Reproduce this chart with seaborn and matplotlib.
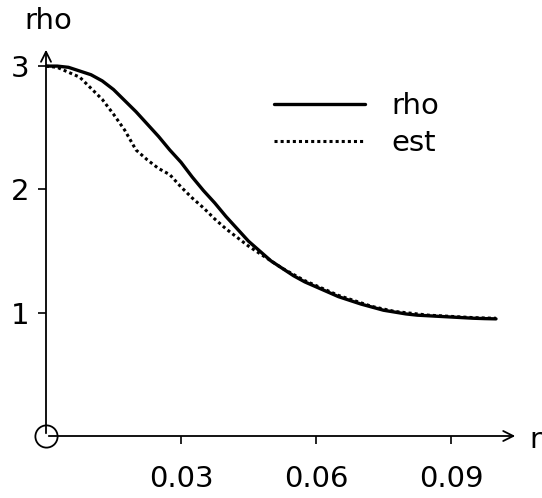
import numpy as np
import pandas as pd
import matplotlib
matplotlib.use("Agg")
import matplotlib.pyplot as plt
import seaborn as sns

r_vals = [0.0, 0.0025, 0.005, 0.0075, 0.01, 0.0125, 0.015, 0.0175, 0.02, 0.0225,
          0.025, 0.0275, 0.03, 0.0325, 0.035, 0.0375, 0.04, 0.0425, 0.045, 0.0475,
          0.05, 0.0525, 0.055, 0.0575, 0.06, 0.0625, 0.065, 0.0675, 0.07, 0.0725,
          0.075, 0.0775, 0.08, 0.0825, 0.085, 0.0875, 0.09, 0.0925, 0.095, 0.0975, 0.1]
rho_vals = [3.00, 3.00, 2.99, 2.96, 2.93, 2.88, 2.81, 2.72, 2.63, 2.53,
            2.43, 2.32, 2.22, 2.10, 1.99, 1.89, 1.78, 1.68, 1.58, 1.50,
            1.42, 1.36, 1.30, 1.25, 1.21, 1.17, 1.13, 1.10, 1.07, 1.045,
            1.02, 1.005, 0.99, 0.98, 0.975, 0.97, 0.965, 0.96, 0.955, 0.952, 0.95]
est_vals = [3.00, 2.99, 2.95, 2.91, 2.82, 2.73, 2.61, 2.48, 2.32, 2.24,
            2.17, 2.12, 2.02, 1.93, 1.85, 1.76, 1.68, 1.61, 1.54, 1.48,
            1.42, 1.36, 1.31, 1.26, 1.22, 1.18, 1.14, 1.11, 1.08, 1.05,
            1.03, 1.01, 1.00, 0.99, 0.98, 0.975, 0.97, 0.965, 0.96, 0.957, 0.955]
xtick_vals = [0.03, 0.06, 0.09]
xtick_labels = ["0.03", "0.06", "0.09"]
ytick_vals = [1, 2, 3]
ytick_labels = ["1", "2", "3"]

sns.set_style("white")
plt.rcParams['font.family'] = ['DejaVu Sans']
plt.rcParams['text.color'] = 'black'
FONT = dict(fontsize=21, color='black')

W, H = 542, 498
fig = plt.figure(figsize=(W / 100, H / 100), dpi=100)
x0, y0, x1, y1 = 46, 436, 518, 47
ax = fig.add_axes([x0 / W, (H - y0) / H, (x1 - x0) / W, (y0 - y1) / H])

df = pd.DataFrame({"r": r_vals * 2,
                   "val": rho_vals + est_vals,
                   "series": ["rho"] * len(r_vals) + ["est"] * len(r_vals)})
sns.lineplot(data=df[df.series == "rho"], x="r", y="val", ax=ax, color="black",
             lw=2.4, label="rho", solid_capstyle="round")
sns.lineplot(data=df[df.series == "est"], x="r", y="val", ax=ax, color="black",
             lw=2.2, linestyle=(0, (1, 1.0)), label="est")

xmax = (x1 - x0) / 4500.0
ymax = (y0 - y1) / 123.3
ax.set_xlim(0, xmax)
ax.set_ylim(0, ymax)
for s in ax.spines.values():
    s.set_visible(False)

ax.set_xticks(xtick_vals)
ax.set_xticklabels(xtick_labels, **FONT)
ax.set_yticks(ytick_vals)
ax.set_yticklabels(ytick_labels, **FONT)
ax.tick_params(axis='both', which='both', length=6, width=1.2, color='black',
               direction='out', left=True, bottom=True, labelcolor='black')
ax.tick_params(axis='x', pad=15)
ax.tick_params(axis='y', pad=6)
ax.set_xlabel("")
ax.set_ylabel("")

# axes with arrowheads
ax.annotate("", xy=(1, 0), xytext=(0, 0), xycoords='axes fraction',
            arrowprops=dict(arrowstyle="->", lw=1.3, color="black",
                            mutation_scale=18), annotation_clip=False)
ax.annotate("", xy=(0, 1), xytext=(0, 0), xycoords='axes fraction',
            arrowprops=dict(arrowstyle="->", lw=1.3, color="black",
                            mutation_scale=18), annotation_clip=False)
# origin circle
ax.plot([0], [0], marker='o', markersize=16, markerfacecolor='none',
        markeredgecolor='black', markeredgewidth=1.3, clip_on=False)

fig.text(24 / W, 1 - 21 / H, "rho", ha='left', va='center', **FONT)
fig.text(529 / W, 1 - 440 / H, "r", ha='left', va='center', **FONT)

leg = ax.legend(loc='upper left', bbox_to_anchor=(248 / W, 1 - 66 / H),
                bbox_transform=fig.transFigure, frameon=False, handlelength=3.1,
                handletextpad=0.9, labelspacing=0.3,
                prop=dict(size=21))
for t in leg.get_texts():
    t.set_color('black')

fig.savefig("out.png", dpi=100)
